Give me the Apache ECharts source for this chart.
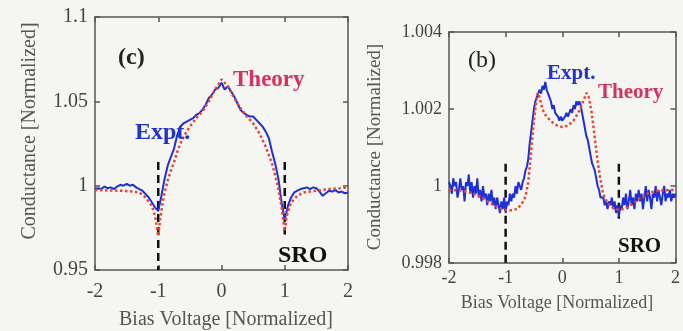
<!DOCTYPE html>
<html>
<head>
<meta charset="utf-8">
<script src="https://cdn.jsdelivr.net/npm/echarts@6/dist/echarts.min.js"></script>
<style>
html,body{margin:0;padding:0;background:#f5f5f2;}
#c{width:683px;height:331px;}
</style>
</head>
<body>
<div id="c"></div>
<script>
// ---------- Left panel (c) ----------
const xTicks = [-2, -1, 0, 1, 2];
const leftYTicks = [0.95, 1, 1.05, 1.1];
const rightYTicks = [0.998, 1, 1.002, 1.004];

// Expt. (c), sampled every 0.05 from -2 to 2
const leftExptStep = 0.05;
const leftExpt = [
  0.998, 0.9985, 0.998, 0.9995, 0.9985, 0.999, 0.998, 0.9995, 1.0005, 1.0, 1.001,
  1.0, 1.0005, 0.999, 0.998, 0.997, 0.995, 0.993, 0.990, 0.987, 0.985,
  0.994, 1.004, 1.012, 1.017, 1.022, 1.030, 1.035, 1.037, 1.038, 1.039,
  1.040, 1.042, 1.043, 1.045, 1.048, 1.052, 1.054, 1.057, 1.058, 1.061,
  1.057, 1.059, 1.056, 1.053, 1.049, 1.045, 1.043, 1.042, 1.041, 1.041,
  1.039, 1.037, 1.035, 1.032, 1.028, 1.020, 1.013, 1.004, 0.990, 0.980,
  0.988, 0.993, 0.996, 0.997, 0.998, 0.9985, 0.999, 0.998, 0.999, 0.9985,
  0.9965, 0.994, 0.9955, 0.997, 0.9965, 0.9975, 0.996, 0.9965, 0.9955, 0.996
];
// Theory (c)
const leftTheoryX = [-2.0, -1.8, -1.6, -1.4, -1.3, -1.2, -1.1, -1.05, -1.0, -0.97, -0.93, -0.9, -0.85, -0.8, -0.75, -0.7, -0.65, -0.6, -0.5, -0.4, -0.3, -0.2, -0.1, 0,
  0.1, 0.2, 0.3, 0.4, 0.5, 0.6, 0.7, 0.8, 0.85, 0.9, 0.95, 1.0, 1.03, 1.1, 1.2, 1.3, 1.5, 1.7, 1.9, 2.0];
const leftTheoryY = [0.9975, 0.9972, 0.997, 0.9965, 0.996, 0.993, 0.988, 0.982, 0.970, 0.980, 0.990, 0.996, 1.003, 1.009, 1.014, 1.020, 1.025, 1.029, 1.035, 1.040, 1.044, 1.050, 1.057, 1.063,
  1.059, 1.052, 1.046, 1.041, 1.037, 1.031, 1.023, 1.013, 1.006, 0.998, 0.987, 0.973, 0.982, 0.990, 0.994, 0.996, 0.997, 0.998, 0.9985, 0.999];
const leftSroX = [-1, 1];
const leftSroTop = [1.014, 1.014];
const leftSroBottom = [0.95, 0.971];

// ---------- Right panel (b) ----------
const rightExptStep = 0.025;
const rightExpt = [
  1.0001, 1.0000, 0.9998, 1.0002, 1.0000, 1.0001, 0.9997, 0.9999,
  1.0002, 0.9999, 1.0000, 0.9996, 1.0001, 1.0000, 1.0003, 0.9998,
  1.0001, 0.9997, 1.0000, 0.9998, 1.0002, 0.9997, 0.9999, 0.9996,
  1.0000, 0.9997, 0.9998, 0.9995, 0.9998, 0.9996, 0.9999, 0.9995,
  0.9997, 0.9994, 0.9997, 0.9995, 0.9993, 0.9996, 0.9994, 0.9997,
  0.9993, 0.9996, 0.9995, 0.9998, 0.9996, 0.9998, 0.9997, 1.0000,
  0.9998, 1.0001, 1.0000, 0.9999, 1.0001, 1.0002, 1.0004, 1.0005,
  1.0007, 1.0011, 1.0014, 1.0017, 1.0020, 1.0022, 1.0023, 1.0024,
  1.0025, 1.0024, 1.0026, 1.0025, 1.0027, 1.0025, 1.0024, 1.0023,
  1.0022, 1.0020, 1.0021, 1.0019, 1.0019, 1.0018, 1.0017, 1.0018,
  1.0017, 1.0017, 1.0018, 1.0019, 1.0018, 1.0019, 1.0020, 1.0019,
  1.0021, 1.0020, 1.0022, 1.0021, 1.0022, 1.0021, 1.0019, 1.0017,
  1.0015, 1.0013, 1.0012, 1.0010, 1.0008, 1.0006, 1.0005, 1.0004,
  1.0002, 1.0000, 0.9999, 0.9997, 0.9997, 0.9997, 0.9995, 0.9996,
  0.9994, 0.9996, 0.9995, 0.9997, 0.9994, 0.9996, 0.9993, 0.9995,
  0.9992, 0.9995, 0.9994, 0.9997, 0.9995, 0.9998, 0.9994, 0.9996,
  0.9999, 0.9995, 0.9997, 0.9994, 0.9998, 0.9996, 0.9999, 0.9996,
  0.9998, 0.9994, 0.9997, 1.0000, 0.9996, 0.9999, 0.9997, 0.9994,
  0.9998, 0.9997, 1.0000, 0.9996, 0.9999, 0.9997, 0.9995, 0.9998,
  1.0000, 0.9996, 0.9998, 0.9997, 0.9999, 0.9996, 0.9998, 0.9997,
  0.9998
];
const rightTheoryX = [-2.0, -1.8, -1.6, -1.5, -1.4, -1.3, -1.2, -1.1, -1.0, -0.9, -0.8, -0.75, -0.7, -0.65, -0.6, -0.55, -0.5, -0.45, -0.43, -0.4, -0.35, -0.3, -0.2, -0.1, 0,
  0.1, 0.2, 0.3, 0.37, 0.43, 0.47, 0.52, 0.57, 0.62, 0.67, 0.72, 0.8, 0.9, 1.0, 1.1, 1.2, 1.3, 1.4, 1.5, 1.6, 1.8, 2.0];
const rightTheoryY = [0.99990, 0.99988, 0.99982, 0.99977, 0.99968, 0.99958, 0.99950, 0.99942, 0.99938, 0.99937, 0.99940, 0.99948, 0.99958, 0.99972, 1.00010, 1.00090, 1.00170, 1.00230, 1.00242, 1.00230, 1.00200, 1.00185, 1.00168, 1.00158, 1.00153,
  1.00157, 1.00170, 1.00195, 1.00220, 1.00242, 1.00230, 1.00190, 1.00130, 1.00070, 1.00020, 0.99980, 0.99955, 0.99943, 0.99938, 0.99941, 0.99950, 0.99960, 0.99972, 0.99980, 0.99985, 0.99989, 0.99990];
const rightSroX = [-1, 1];
const rightSroTop = [1.00058, 1.00058];
const rightSroBottom = [0.998, 0.99915];

// ---------- build ----------
const gridX = (arr, step) => arr.map((v, i) => [+(-2 + i * step).toFixed(4), v]);
const zip = (xs, ys) => xs.map((x, i) => [x, ys[i]]);

const SERIF = '"Liberation Serif", "DejaVu Serif", serif';
const AX = '#555';
const BLUE = '#1f2fd6';
const RED = '#e8452f';

function xAxes(gi, fs, margin) {
  return [
    { gridIndex: gi, type: 'value', min: -2, max: 2, interval: 1, position: 'bottom',
      axisLine: { onZero: false, lineStyle: { color: AX, width: 1.5 } },
      axisTick: { inside: true, length: 5, lineStyle: { color: AX, width: 1.5 } },
      splitLine: { show: false },
      axisLabel: { color: '#444', fontFamily: SERIF, fontSize: fs, margin: margin,
        formatter: v => String(v) } },
    { gridIndex: gi, type: 'value', min: -2, max: 2, interval: 1, position: 'top',
      axisLine: { onZero: false, lineStyle: { color: AX, width: 1.5 } },
      axisTick: { inside: true, length: 5, lineStyle: { color: AX, width: 1.5 } },
      splitLine: { show: false }, axisLabel: { show: false } }
  ];
}
function yAxes(gi, min, max, interval, fs) {
  return [
    { gridIndex: gi, type: 'value', min, max, interval, position: 'left',
      axisLine: { show: true, onZero: false, lineStyle: { color: AX, width: 1.5 } },
      axisTick: { show: true, inside: true, length: 5, lineStyle: { color: AX, width: 1.5 } },
      splitLine: { show: false },
      axisLabel: { color: '#444', fontFamily: SERIF, fontSize: fs, margin: 7,
        formatter: v => String(+v.toFixed(4)) } },
    { gridIndex: gi, type: 'value', min, max, interval, position: 'right',
      axisLine: { show: true, onZero: false, lineStyle: { color: AX, width: 1.5 } },
      axisTick: { show: true, inside: true, length: 5, lineStyle: { color: AX, width: 1.5 } },
      splitLine: { show: false }, axisLabel: { show: false } }
  ];
}
function sroSeries(xi, yi, xs, tops, bottoms) {
  return xs.map((x, i) => ({
    type: 'line', xAxisIndex: xi, yAxisIndex: yi, symbol: 'none', silent: true, z: 3,
    data: [[x, tops[i]], [x, bottoms[i]]],
    lineStyle: { color: '#111', width: 2.5, type: [8, 5] }
  }));
}

const chart = echarts.init(document.getElementById('c'), null, { renderer: 'canvas' });
chart.setOption({
  backgroundColor: '#f5f5f2',
  animation: false,
  grid: [
    { left: 95, top: 17, width: 253, height: 253 },
    { left: 449, top: 32, width: 232, height: 231 }
  ],
  xAxis: [...xAxes(0, 20, 12), ...xAxes(1, 18, 6)],
  yAxis: [...yAxes(0, 0.95, 1.1, 0.05, 20), ...yAxes(1, 0.998, 1.004, 0.002, 18)],
  series: [
    ...sroSeries(0, 0, leftSroX, leftSroTop, leftSroBottom),
    { type: 'line', xAxisIndex: 0, yAxisIndex: 0, symbol: 'none', z: 4,
      data: gridX(leftExpt, leftExptStep), lineStyle: { color: BLUE, width: 2 } },
    { type: 'line', xAxisIndex: 0, yAxisIndex: 0, symbol: 'none', z: 5,
      data: zip(leftTheoryX, leftTheoryY), lineStyle: { color: RED, width: 2.5, type: 'dotted' } },
    ...sroSeries(2, 2, rightSroX, rightSroTop, rightSroBottom),
    { type: 'line', xAxisIndex: 2, yAxisIndex: 2, symbol: 'none', z: 4,
      data: gridX(rightExpt, rightExptStep), lineStyle: { color: BLUE, width: 2 } },
    { type: 'line', xAxisIndex: 2, yAxisIndex: 2, symbol: 'none', z: 5,
      data: zip(rightTheoryX, rightTheoryY), lineStyle: { color: RED, width: 2.5, type: 'dotted' } }
  ],
  graphic: [
    // left panel texts
    { type: 'text', x: 30, y: 131, rotation: Math.PI / 2,
      style: { text: 'Conductance [Normalized]', font: '20px ' + SERIF, fill: '#555', align: 'center', verticalAlign: 'middle' } },
    { type: 'text', x: 226, y: 320,
      style: { text: 'Bias Voltage [Normalized]', font: '20px ' + SERIF, fill: '#555', align: 'center', verticalAlign: 'middle' } },
    { type: 'text', x: 118, y: 58, z: 10,
      style: { text: '(c)', font: 'bold 24px ' + SERIF, fill: '#222', align: 'left', verticalAlign: 'middle' } },
    { type: 'text', x: 233, y: 80, z: 10,
      style: { text: 'Theory', font: 'bold 23px ' + SERIF, fill: '#d9305e', align: 'left', verticalAlign: 'middle' } },
    { type: 'text', x: 135, y: 133, z: 10,
      style: { text: 'Expt.', font: 'bold 24px ' + SERIF, fill: '#2233cc', align: 'left', verticalAlign: 'middle' } },
    { type: 'text', x: 278, y: 256, z: 10,
      style: { text: 'SRO', font: 'bold 24px ' + SERIF, fill: '#111', align: 'left', verticalAlign: 'middle' } },
    // right panel texts
    { type: 'text', x: 375, y: 147, rotation: Math.PI / 2,
      style: { text: 'Conductance [Normalized]', font: '19px ' + SERIF, fill: '#555', align: 'center', verticalAlign: 'middle' } },
    { type: 'text', x: 557, y: 303,
      style: { text: 'Bias Voltage [Normalized]', font: '18px ' + SERIF, fill: '#555', align: 'center', verticalAlign: 'middle' } },
    { type: 'text', x: 468, y: 61, z: 10,
      style: { text: '(b)', font: '24px ' + SERIF, fill: '#222', align: 'left', verticalAlign: 'middle' } },
    { type: 'text', x: 547, y: 74, z: 10,
      style: { text: 'Expt.', font: 'bold 21px ' + SERIF, fill: '#2233cc', align: 'left', verticalAlign: 'middle' } },
    { type: 'text', x: 598, y: 93, z: 10,
      style: { text: 'Theory', font: 'bold 21px ' + SERIF, fill: '#d9305e', align: 'left', verticalAlign: 'middle' } },
    { type: 'text', x: 618, y: 247, z: 10,
      style: { text: 'SRO', font: 'bold 21px ' + SERIF, fill: '#111', align: 'left', verticalAlign: 'middle' } }
  ]
});
</script>
</body>
</html>
